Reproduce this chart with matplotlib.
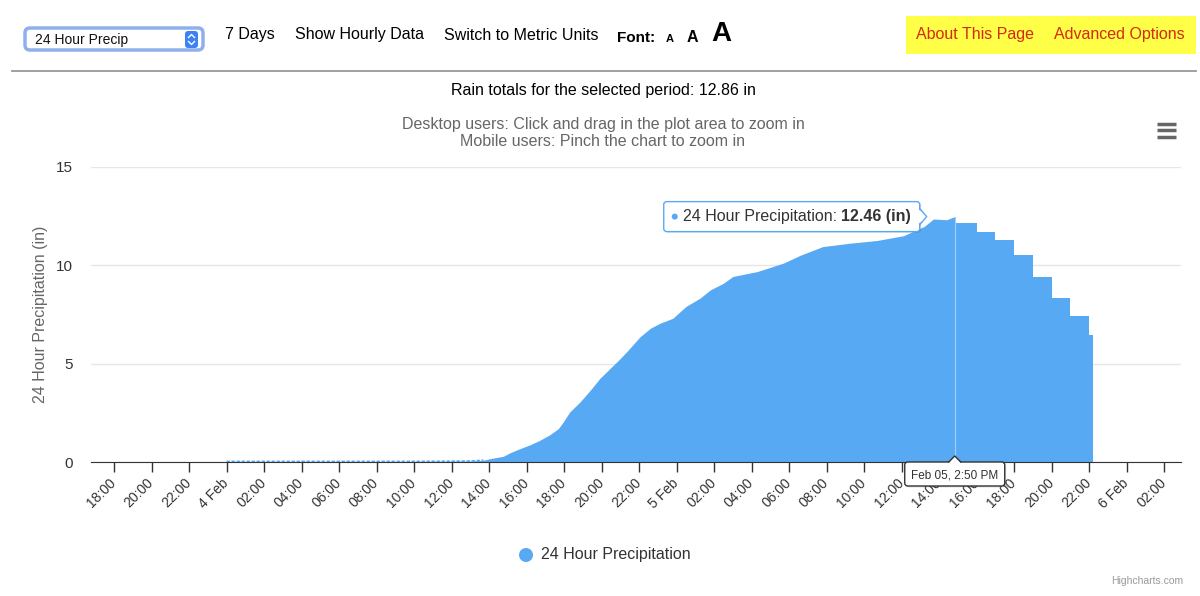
import numpy as np
import pandas as pd
import matplotlib
matplotlib.use('Agg')
import matplotlib.pyplot as plt
import matplotlib.dates as mdates
from matplotlib.patches import FancyBboxPatch, Polygon, Circle

plt.rcParams['font.family'] = ['Liberation Sans', 'DejaVu Sans']

# data: 24 hour precipitation (in), times as hours after 4 Feb 00:00
base = pd.Timestamp('2024-02-04 00:00')
rise_hours = [0, 2, 4, 6, 8, 10, 12, 13, 13.7, 14.05, 14.76, 15.1, 15.65, 16.2,
              16.7, 17.25, 17.7, 17.96, 18.3, 18.85, 19.4, 19.9, 20.45, 21.0,
              21.5, 22.05, 22.6, 23.1, 23.8, 24.5, 25.25, 25.8, 26.5, 27.0,
              28.3, 29.7, 30.6, 31.8, 33.25, 34.7, 36.1, 37.2, 37.7, 38.4,
              38.8333]
rise_vals = [0.03, 0.03, 0.03, 0.03, 0.03, 0.03, 0.04, 0.05, 0.09, 0.17, 0.29,
             0.46, 0.68, 0.88, 1.1, 1.39, 1.7, 2.04, 2.54, 3.05, 3.65, 4.24,
             4.75, 5.26, 5.77, 6.36, 6.79, 7.04, 7.3, 7.9, 8.32, 8.74, 9.08,
             9.42, 9.67, 10.1, 10.5, 10.94, 11.11, 11.25, 11.49, 11.96, 12.34,
             12.3, 12.46]
# hourly steps after the highlighted point
tail_hours = [38.8333, 40, 41, 42, 43, 44, 45, 46, 46.2]
tail_vals = [12.13, 11.7, 11.25, 10.52, 9.38, 8.35, 7.43, 6.45]

cursor_time = pd.Timestamp('2024-02-05 14:50')
cursor_val = 12.46
rain_total = 12.86
yticks = [0, 5, 10, 15]
xticks = pd.date_range('2024-02-03 18:00', '2024-02-06 02:00', freq='2h')
xlabels = ['%d Feb' % t.day if t.hour == 0 else t.strftime('%H:%M') for t in xticks]

blue = '#57a9f3'
W, H = 1200, 596

fig = plt.figure(figsize=(12, 5.96), dpi=100)
ax = fig.add_axes([91/W, 1 - 462/H, (1181 - 91)/W, (462 - 166.6)/H])

rise_t = (base + pd.to_timedelta(rise_hours, unit='h')).to_numpy()
tail_t = (base + pd.to_timedelta(tail_hours, unit='h')).to_numpy()
ax.fill_between(rise_t, 0, rise_vals, color=blue, lw=0)
ax.fill_between(tail_t, 0, tail_vals + [tail_vals[-1]], step='post', color=blue, lw=0)
# faint dotted trace of the near-zero values
ax.plot(rise_t[:9], rise_vals[:9], color=blue, lw=1.2, ls=(0, (2, 1)))
# crosshair
ax.plot([cursor_time, cursor_time], [0, cursor_val], color='#9fd0fa', lw=0.8)

ax.set_xlim(base - pd.Timedelta(hours=7.23), base + pd.Timedelta(hours=50.9))
ax.set_ylim(0, 15)

ax.set_yticks(yticks)
ax.set_yticklabels([str(v) for v in yticks], fontsize=11, color='#333333')
ax.tick_params(axis='y', length=0, pad=13)
ax.set_xticks(xticks.to_numpy())
ax.set_xticklabels(xlabels, rotation=45, ha='right', va='center',
                   rotation_mode='anchor', fontsize=10, color='#333333')
ax.tick_params(axis='x', length=7.5, width=1, color='#333333', pad=6)
ax.grid(axis='y', color='#e6e6e6', lw=1)
ax.set_axisbelow(True)
for s in ['top', 'right', 'left']:
    ax.spines[s].set_visible(False)
ax.spines['bottom'].set_color('#333333')
ax.set_ylabel('24 Hour Precipitation (in)', fontsize=11.5, color='#666666', labelpad=6)

# overlay in pixel coords
ov = fig.add_axes([0, 0, 1, 1], zorder=5)
ov.set_xlim(0, W)
ov.set_ylim(H, 0)
ov.axis('off')
ov.patch.set_alpha(0)

def to_px(t, v):
    dx, dy = ax.transData.transform((mdates.date2num(t), v))
    return dx, H - dy

# header
ov.add_patch(FancyBboxPatch((25, 28), 178, 22, boxstyle='round,pad=0,rounding_size=5',
                            fc='white', ec='#8fb0ec', lw=2.5))
ov.text(35, 40, '24 Hour Precip', fontsize=10, va='center', color='#111111')
ov.add_patch(FancyBboxPatch((185, 31), 13, 17, boxstyle='round,pad=0,rounding_size=3',
                            fc='#3d82f5', ec='none'))
ov.plot([188.5, 191.5, 194.5], [37.5, 34.5, 37.5], color='white', lw=1)
ov.plot([188.5, 191.5, 194.5], [41.5, 44.5, 41.5], color='white', lw=1)
hdr = dict(fontsize=11.5, va='center', color='black')
ov.text(225, 35, '7 Days', **hdr)
ov.text(295, 35, 'Show Hourly Data', **hdr)
ov.text(444, 35, 'Switch to Metric Units', **hdr)
ov.text(617, 38, 'Font:', fontsize=11, fontweight='bold', va='center')
ov.text(666, 39, 'A', fontsize=8, fontweight='bold', va='center')
ov.text(687, 38, 'A', fontsize=11.5, fontweight='bold', va='center')
ov.text(711, 34, 'A', fontsize=20, fontweight='bold', va='center')
ov.add_patch(plt.Rectangle((906, 16), 290, 38, fc='#ffff48', ec='none'))
ov.text(916, 35, 'About This Page', fontsize=11.5, va='center', color='#d42a10')
ov.text(1054, 35, 'Advanced Options', fontsize=11.5, va='center', color='#d42a10')
ov.plot([12, 1196], [71, 71], color='#999999', lw=1.3)

ov.text(603, 91, 'Rain totals for the selected period: %.2f in' % rain_total,
        fontsize=11.5, ha='center', va='center', color='black')
ov.text(603, 124, 'Desktop users: Click and drag in the plot area to zoom in',
        fontsize=11.5, ha='center', va='center', color='#666666')
ov.text(603, 142, 'Mobile users: Pinch the chart to zoom in',
        fontsize=11.5, ha='center', va='center', color='#666666')
for yy in [123.5, 130, 136.5]:
    ov.plot([1157, 1176], [yy, yy], color='#666666', lw=2.5, solid_capstyle='butt')

# tooltip
px, py = to_px(cursor_time, cursor_val)
bx1 = px - 35
bx0 = bx1 - 256
ov.add_patch(FancyBboxPatch((bx0 + 1.5, py - 14), bx1 - bx0, 30,
                            boxstyle='round,pad=0,rounding_size=3', fc='black',
                            ec='none', alpha=0.12))
ov.add_patch(FancyBboxPatch((bx0, py - 15), bx1 - bx0, 30,
                            boxstyle='round,pad=0,rounding_size=3', fc='white',
                            ec=blue, lw=1))
ov.add_patch(Polygon([(bx1 - 2, py - 8), (bx1 + 7, py), (bx1 - 2, py + 8)],
                     closed=True, fc='white', ec='none', zorder=3))
ov.plot([bx1, bx1 + 7, bx1], [py - 8, py, py + 8], color=blue, lw=1, zorder=4)
ov.add_patch(Circle((bx0 + 11, py), 3, fc=blue, ec='none'))
t1 = ov.text(bx0 + 19, py, '24 Hour Precipitation: ', fontsize=11.5, va='center',
             color='#333333')
fig.canvas.draw()
bb = t1.get_window_extent(fig.canvas.get_renderer())
ov.text(bb.x1, py, '%.2f (in)' % cursor_val, fontsize=11.5, va='center',
        fontweight='bold', color='#333333')

# x-axis crosshair label
ax0x, ax0y = to_px(cursor_time, 0)
ov.add_patch(FancyBboxPatch((ax0x - 50 + 1.5, ax0y + 1.5), 100, 24,
                            boxstyle='round,pad=0,rounding_size=3', fc='black',
                            ec='none', alpha=0.12))
ov.add_patch(FancyBboxPatch((ax0x - 50, ax0y), 100, 24,
                            boxstyle='round,pad=0,rounding_size=3', fc='white',
                            ec='#333333', lw=1))
ov.add_patch(Polygon([(ax0x - 6, ax0y + 1), (ax0x, ax0y - 6), (ax0x + 6, ax0y + 1)],
                     closed=True, fc='white', ec='none', zorder=3))
ov.plot([ax0x - 6, ax0x, ax0x + 6], [ax0y, ax0y - 6, ax0y], color='#333333', lw=1, zorder=4)
lab = cursor_time.strftime('%b %d, ') + '%d:%02d PM' % (cursor_time.hour % 12, cursor_time.minute)
ov.text(ax0x, ax0y + 13, lab, fontsize=8.5, ha='center', va='center', color='#333333')

# legend
ov.add_patch(Circle((526, 555), 7, fc=blue, ec='none'))
ov.text(541, 555, '24 Hour Precipitation', fontsize=11.5, va='center', color='#333333')
ov.text(1183, 581, 'Highcharts.com', fontsize=7.5, ha='right', va='center', color='#999999')

fig.savefig('out.png', dpi=100)
